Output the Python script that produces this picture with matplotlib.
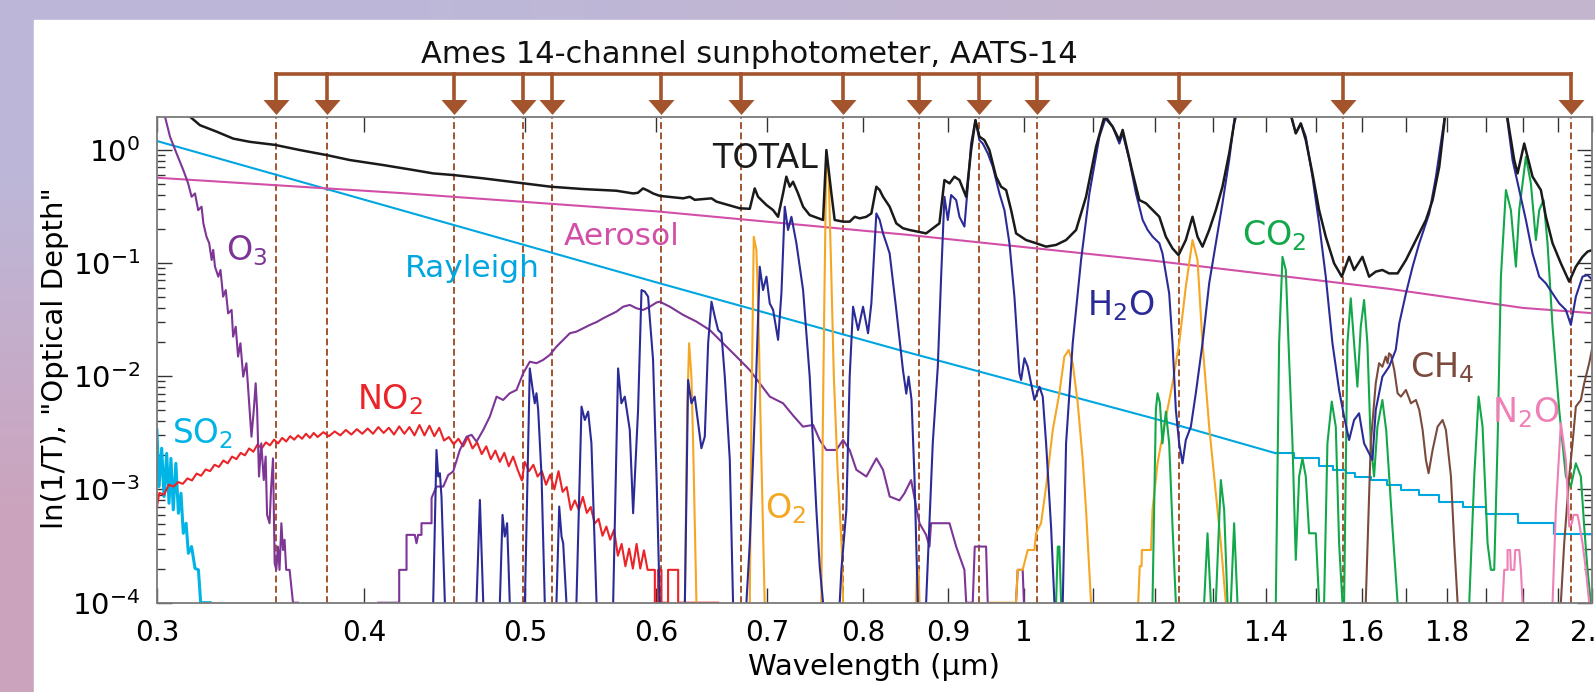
import numpy as np
import matplotlib.pyplot as plt
from matplotlib.patches import Rectangle
from matplotlib.ticker import FixedLocator, FixedFormatter, NullLocator, LogLocator, NullFormatter

nan = np.nan
plt.rcParams['mathtext.default'] = 'regular'

# AATS-14 channel centres (um)
channels = [0.354, 0.380, 0.453, 0.499, 0.519, 0.604, 0.675, 0.778, 0.865, 0.940, 1.019, 1.241, 1.558, 2.139]

# --- optical depth curves (wavelength um, tau) ---
rayleigh_wl = [0.300, 0.603, 0.841, 1.207, 1.418]
rayleigh_tau = [1.19, 0.066, 0.0170, 4.1e-3, 2.09e-3]
rayleigh_step_wl = [1.418, 1.456, 1.507, 1.535, 1.565, 1.584, 1.620, 1.655, 1.688, 1.732, 1.780,
                    1.839, 1.899, 1.985, 2.088, 2.21]
rayleigh_step_tau = [2.09e-3, 1.88e-3, 1.61e-3, 1.49e-3, 1.39e-3, 1.30e-3, 1.20e-3, 1.10e-3, 9.9e-4,
                     8.9e-4, 7.8e-4, 7.06e-4, 6.08e-4, 5.03e-4, 4.05e-4, 4.05e-4]

aerosol_wl = [0.30, 0.42, 0.60, 0.85, 1.20, 1.66, 2.00, 2.20]
aerosol_tau = [0.564, 0.414, 0.285, 0.177, 0.104, 0.059, 0.040, 0.036]

so2_wl = [0.300, 0.3009, 0.3020, 0.3030, 0.3041, 0.3051, 0.3059, 0.3069, 0.3080, 0.3091, 0.3102,
          0.3112, 0.3124, 0.3134, 0.3148, 0.3163, 0.3178, 0.3188, 0.3230]
so2_tau = [3.35e-3, 1.06e-3, 2.31e-3, 8.65e-4, 2.08e-3, 7.55e-4, 1.88e-3, 6.6e-4, 1.70e-3, 6.16e-4,
           9.25e-4, 4.1e-4, 5.03e-4, 2.73e-4, 3.13e-4, 2.01e-4, 1.95e-4, 1e-4, 1e-4]

no2_wl = [0.300, 0.301, 0.303, 0.305, 0.307, 0.309, 0.311, 0.313, 0.315, 0.317, 0.319, 0.321, 0.323,
          0.325, 0.327, 0.329, 0.331, 0.333, 0.335, 0.337, 0.339, 0.341, 0.343, 0.345, 0.347, 0.349,
          0.351, 0.353, 0.355, 0.357, 0.359, 0.361, 0.363, 0.365, 0.367, 0.369, 0.371, 0.373, 0.375,
          0.378, 0.381, 0.384, 0.387, 0.390, 0.393, 0.396, 0.399, 0.402, 0.405, 0.408, 0.411, 0.414,
          0.417, 0.420, 0.423, 0.426, 0.429, 0.432, 0.435, 0.438, 0.441, 0.444, 0.447, 0.450, 0.453,
          0.456, 0.459, 0.462, 0.465, 0.468, 0.471, 0.474, 0.477, 0.480, 0.483, 0.486, 0.489, 0.492,
          0.495, 0.498, 0.500, 0.503, 0.506, 0.509, 0.512, 0.515, 0.518, 0.521, 0.524, 0.527, 0.530,
          0.533, 0.536, 0.539, 0.542, 0.545, 0.548, 0.551, 0.554, 0.557, 0.560, 0.563, 0.566, 0.569,
          0.572, 0.575, 0.578, 0.581, 0.584, 0.587, 0.590, 0.593, 0.599, 0.599, 0.6017, 0.6017,
          0.6045, 0.6045, 0.6101, 0.6101, 0.6187, 0.6187, 0.654]
no2_tau = [7.0e-4, 9.3e-4, 9.0e-4, 1.10e-3, 1.06e-3, 1.16e-3, 1.12e-3, 1.25e-3, 1.20e-3, 1.38e-3,
           1.32e-3, 1.50e-3, 1.45e-3, 1.65e-3, 1.58e-3, 1.80e-3, 1.70e-3, 1.95e-3, 1.85e-3, 2.10e-3,
           2.00e-3, 2.30e-3, 2.15e-3, 2.50e-3, 2.30e-3, 2.60e-3, 2.45e-3, 2.75e-3, 2.55e-3, 2.85e-3,
           2.65e-3, 2.95e-3, 2.75e-3, 3.00e-3, 2.80e-3, 3.10e-3, 2.85e-3, 3.15e-3, 2.90e-3, 3.20e-3,
           2.95e-3, 3.25e-3, 3.00e-3, 3.35e-3, 3.05e-3, 3.40e-3, 3.10e-3, 3.45e-3, 3.10e-3, 3.55e-3,
           3.15e-3, 3.50e-3, 3.05e-3, 3.60e-3, 3.10e-3, 3.55e-3, 3.00e-3, 3.70e-3, 3.00e-3, 3.65e-3,
           2.95e-3, 3.50e-3, 2.70e-3, 2.90e-3, 2.50e-3, 2.80e-3, 2.40e-3, 2.90e-3, 2.30e-3, 2.60e-3,
           2.05e-3, 2.40e-3, 1.85e-3, 2.20e-3, 1.75e-3, 2.10e-3, 1.60e-3, 1.95e-3, 1.50e-3, 1.20e-3,
           1.75e-3, 1.45e-3, 1.65e-3, 1.30e-3, 1.45e-3, 1.10e-3, 1.35e-3, 1.00e-3, 1.45e-3, 9.5e-4,
           1.05e-3, 6.6e-4, 8.0e-4, 6.6e-4, 8.6e-4, 6.2e-4, 7.0e-4, 5.0e-4, 5.5e-4, 3.9e-4, 4.7e-4,
           3.6e-4, 4.4e-4, 2.6e-4, 3.3e-4, 2.1e-4, 3.0e-4, 2.0e-4, 3.3e-4, 2.0e-4, 2.9e-4, 1.95e-4,
           1.95e-4, 1e-4, 1e-4, 1.95e-4, 1.95e-4, 1e-4, 1e-4, 1.95e-4, 1.95e-4, 1e-4, 1e-4]

o3_wl = [0.3015, 0.3027, 0.3055, 0.3083, 0.3112, 0.3133, 0.3148, 0.3163, 0.3177, 0.3192, 0.3200,
         0.3214, 0.3226, 0.3237, 0.3244, 0.3252, 0.3267, 0.3277, 0.3289, 0.3301, 0.3312, 0.3328,
         0.3335, 0.3347, 0.3358, 0.3369, 0.3382, 0.3397, 0.3410, 0.3421, 0.3432, 0.3441, 0.3448,
         0.3457, 0.3468, 0.3480, 0.3489, 0.3496, 0.3508, 0.3516, 0.3525, 0.3533, 0.3541, 0.3549,
         0.3557, 0.3566, 0.3574, 0.3582, 0.3590, 0.3607, 0.3624, 0.3649, nan,
         0.4079, 0.4200, 0.4200, 0.4243, 0.4243, 0.4292, 0.4302, 0.4312, 0.4332, 0.4332, 0.4393,
         0.4393, 0.4423, 0.4465, 0.4496, 0.4527, 0.4569, 0.4612, 0.4644, 0.4676, 0.4720, 0.4763,
         0.4808, 0.4852, 0.4897, 0.4943, 0.4989, 0.5035, 0.5082, 0.5129, 0.5177, 0.5225, 0.5274,
         0.5323, 0.5372, 0.5422, 0.5473, 0.5524, 0.5575, 0.5627, 0.5679, 0.5732, 0.5785, 0.5839,
         0.5893, 0.5948, 0.6003, 0.6031, 0.6116, 0.6230, 0.6346, 0.6465, 0.6585, 0.6708, 0.6834,
         0.6929, 0.7027, 0.7157, 0.7257, 0.7358, 0.7462, 0.7531, 0.7601, 0.7707, 0.7779, 0.7851,
         0.7924, 0.8035, 0.8148, 0.8223, 0.8300, 0.8413, 0.8472, 0.8550, 0.8610, 0.8650, 0.8730,
         0.8771, 0.8790, 0.9018, 0.9060, 0.9102, 0.9207, 0.9230, 0.9314, 0.9340, 0.9488, 0.9510, nan,
         0.9891, 0.9914, 0.9983, 1.0000]
o3_tau = [3.5, 2.23, 1.30, 0.925, 0.659, 0.503, 0.383, 0.410, 0.292, 0.313, 0.223,
          0.170, 0.149, 0.106, 0.130, 0.0925, 0.0755, 0.0865, 0.0503, 0.0575, 0.0358, 0.0384,
          0.0223, 0.0273, 0.0149, 0.0195, 9.9e-3, 0.0130, 5.76e-3, 2.92e-3, 5.02e-3, 8.65e-3, 5.02e-3,
          1.30e-3, 2.55e-3, 1.21e-3, 1.95e-3, 5.96e-4, 5.03e-4, 1.06e-3, 1.88e-3, 2.23e-4, 1.95e-4, 3.13e-4,
          1.95e-4, 5.03e-4, 2.92e-4, 3.59e-4, 1.95e-4, 1.95e-4, 1e-4, 1e-4, nan,
          1e-4, 1e-4, 1.95e-4, 1.95e-4, 3.97e-4, 3.97e-4, 3.35e-4, 3.97e-4, 3.97e-4, 5.03e-4, 5.03e-4,
          8.4e-4, 1.06e-3, 1.06e-3, 1.34e-3, 1.44e-3, 2.23e-3, 2.92e-3, 3.03e-3, 2.64e-3, 3.35e-3, 4.39e-3,
          6.59e-3, 6.16e-3, 7.06e-3, 7.55e-3, 0.0106, 0.0134, 0.0130, 0.0139, 0.0154, 0.0182, 0.0209,
          0.0239, 0.0247, 0.0264, 0.0283, 0.0300, 0.0324, 0.0347, 0.0371, 0.0410, 0.0425, 0.0397,
          0.0384, 0.0410, 0.0446, 0.0454, 0.0410, 0.0347, 0.0303, 0.0255, 0.0195, 0.0149, 0.0113,
          8.65e-3, 6.59e-3, 5.76e-3, 4.5e-3, 3.58e-3, 3.71e-3, 2.73e-3, 2.23e-3, 2.23e-3, 2.73e-3, 2.23e-3,
          1.49e-3, 1.30e-3, 1.88e-3, 1.49e-3, 8.65e-4, 8.0e-4, 9.25e-4, 1.21e-3, 7.06e-4, 5.03e-4, 3.97e-4,
          3.13e-4, 5.03e-4, 5.03e-4, 3.97e-4, 3.13e-4, 1.95e-4, 1e-4, 1e-4, 3.13e-4, 3.13e-4, 1e-4, nan,
          1e-4, 1.95e-4, 1.95e-4, 1e-4]

h2o_wl = [0.4403, 0.4423, 0.4434, 0.4444, 0.4454, 0.4475, nan,
          0.4676, 0.4698, 0.4720, nan,
          0.4830, 0.4848, 0.4863, 0.4879, 0.4897, nan,
          0.5001, 0.5035, 0.5059, 0.5070, 0.5082, 0.5094, 0.5118, 0.5141, nan,
          0.5225, 0.5245, 0.5262, 0.5274, 0.5298, nan,
          0.5372, 0.5410, 0.5435, 0.5460, 0.5485, 0.5524, nan,
          0.5653, 0.5692, 0.5718, 0.5745, 0.5785, 0.5812, 0.5852, 0.5880, 0.5907, 0.5934, 0.5975,
          0.6004, 0.6031, nan,
          0.6245, 0.6273, 0.6302, 0.6331, 0.6361, 0.6390, 0.6420, 0.6450, 0.6480, 0.6510, 0.6540,
          0.6570, 0.6601, 0.6647, 0.6677, nan,
          0.6802, 0.6834, 0.6865, 0.6897, 0.6929, 0.6961, 0.6994, 0.7026, 0.7059, 0.7108, 0.7141,
          0.7174, 0.7207, 0.7241, 0.7291, 0.7359, 0.7427, 0.7496, 0.7531, 0.7566, nan,
          0.7743, 0.7761, 0.7815, 0.7851, 0.7888, 0.7943, 0.7998, 0.8054, 0.8091, 0.8147, 0.8185,
          0.8223, 0.8261, 0.8299, 0.8376, 0.8454, 0.8493, 0.8520, 0.8555, 0.8590, 0.8630, nan,
          0.8730, 0.8811, 0.8873, 0.8914, 0.8955, 0.8997, 0.9039, 0.9102, 0.9144, 0.9207, 0.9250,
          0.9293, 0.9349, 0.9401, 0.9445, 0.9511, 0.9577, 0.9666, 0.9733, 0.9801, 0.9869, 0.9938,
          0.9961, 1.0007, 1.0053, 1.0100, 1.0147, 1.0218, 1.0265, 1.0313, 1.0384, 1.0433, nan,
          1.0554, 1.0603, 1.0701, 1.0826, 1.0952, 1.1105, 1.1208, 1.1312, 1.1417, 1.1470, 1.1577,
          1.1684, 1.1793, 1.1875, 1.1958, 1.2069, 1.2122, 1.2235, 1.2292, 1.2349, 1.2406, 1.2464,
          1.2521, 1.2609, 1.2696, 1.2815, 1.2934, 1.3054, 1.3175, 1.3298, 1.3421, 1.39, 1.4453,
          1.4587, 1.4689, 1.4791, 1.4928, 1.5067, 1.5207, 1.5349, 1.5491, 1.5599, 1.5708, 1.5817,
          1.5927, 1.6038, 1.6112, 1.6225, 1.6300, 1.6451, 1.6604, 1.6758, 1.6841, 1.6998, 1.7156,
          1.7315, 1.7557, 1.7721, 1.7968, 1.87, 1.9529, 1.9710, 1.9894, 2.0079, 2.0265, 2.0454,
          2.0644, 2.0836, 2.1029, 2.1225, 2.1372, 2.1521, 2.1721, 2.1872, 2.2025]
h2o_tau = [1e-4, 2.23e-3, 1.30e-3, 1.39e-3, 8.65e-4, 1e-4, nan,
           1e-4, 8.07e-4, 1e-4, nan,
           1e-4, 5.96e-4, 3.84e-4, 5.03e-4, 1e-4, nan,
           1e-4, 0.0117, 7.06e-3, 5.76e-3, 7.06e-3, 5.03e-3, 1.30e-3, 1e-4, nan,
           1e-4, 7.06e-4, 3.84e-4, 3.35e-4, 1e-4, nan,
           1e-4, 5.38e-3, 4.10e-3, 4.86e-3, 2.55e-3, 1e-4, nan,
           1e-4, 0.0117, 5.76e-3, 6.59e-3, 3.35e-3, 6.16e-4, 5.03e-3, 0.0575, 0.0557, 0.0503, 0.014,
           1.3e-3, 1e-4, nan,
           1e-4, 9.25e-3, 5.76e-3, 6.59e-3, 3.84e-3, 2.31e-3, 2.92e-3, 0.0195, 0.0454, 0.0335, 0.0255,
           0.0239, 9.9e-3, 1.82e-3, 1e-4, nan,
           1e-4, 3.35e-4, 1.82e-3, 0.0113, 0.0925, 0.0575, 0.0755, 0.0439, 0.0384, 0.0209, 0.0538,
           0.313, 0.195, 0.255, 0.149, 0.0575, 9.9e-3, 6.6e-4, 2.09e-4, 1e-4, nan,
           1e-4, 1.95e-4, 6.6e-4, 9.9e-3, 0.041, 0.0255, 0.041, 0.0239, 0.0439, 0.273, 0.239,
           0.182, 0.149, 0.121, 0.0384, 0.0113, 7.0e-3, 9.9e-3, 6.2e-3, 1.3e-3, 1e-4, nan,
           1e-4, 2.55e-3, 0.0121, 0.0755, 0.383, 0.239, 0.397, 0.358, 0.255, 0.209, 0.470,
           1.13, 1.82, 1.21, 1.13, 0.925, 0.706, 0.410, 0.292, 0.149, 0.0503, 0.0106,
           9.25e-3, 0.0144, 0.0121, 8.65e-3, 6.16e-3, 8.07e-3, 6.59e-3, 2.55e-3, 4.7e-4, 1e-4, nan,
           1e-4, 2.55e-3, 0.0195, 0.106, 0.410, 1.30, 1.95, 1.59, 1.13, 1.39, 0.808,
           0.410, 0.239, 0.195, 0.170, 0.149, 0.121, 0.0538, 0.0195, 5.03e-3, 2.55e-3, 1.70e-3,
           2.73e-3, 3.58e-3, 7.06e-3, 0.0195, 0.0659, 0.149, 0.335, 0.808, 2.3, 30.0, 2.3,
           1.39, 1.70, 1.30, 0.576, 0.223, 0.0755, 0.0195, 7.55e-3, 4.39e-3, 2.73e-3, 4.10e-3,
           4.70e-3, 2.55e-3, 2.23e-3, 1.82e-3, 5.03e-3, 9.9e-3, 0.0121, 0.0170, 0.0292, 0.0538, 0.0925,
           0.149, 0.273, 0.576, 2.3, 30.0, 2.3, 0.808, 0.439, 0.239, 0.121, 0.0755,
           0.0659, 0.0538, 0.0439, 0.0384, 0.0283, 0.0503, 0.0755, 0.0781, 0.0706]

o2_wl = [0.6245, 0.6265, 0.6282, 0.6302, 0.6317, 0.6346, nan,
         0.6834, 0.6850, 0.6872, 0.6897, 0.6915, 0.6940, 0.6977, nan,
         0.7548, 0.7560, 0.7580, 0.7601, 0.7625, 0.7650, 0.7680, 0.7720, 0.7765, 0.7779, nan,
         0.861, 0.862, 0.864, 0.865, nan,
         0.9532, 0.9891, 0.9914, 0.9983, 1.0053, 1.0147, 1.0170, 1.0241, 1.0313, 1.0409, 1.0505,
         1.0578, 1.0642, 1.0701, 1.0776, 1.0851, 1.0901, 1.0977, nan,
         1.1720, 1.1745, 1.1775, 1.1780, 1.1930, 1.1955, 1.2039, 1.2150, 1.2292, 1.2406, 1.2521,
         1.2638, 1.2726, 1.2815, 1.2934, 1.3054, 1.3145, 1.3236]
o2_tau = [1e-4, 5.03e-3, 0.0195, 9.9e-3, 2.55e-3, 1e-4, nan,
          1e-4, 5e-3, 0.17, 0.13, 0.04, 3e-3, 1e-4, nan,
          1e-4, 2e-3, 0.05, 0.93, 0.6, 0.1, 0.01, 1.5e-3, 3e-4, 1e-4, nan,
          1e-4, 1.95e-4, 1.95e-4, 1e-4, nan,
          1e-4, 1e-4, 1.95e-4, 1.95e-4, 2.92e-4, 2.92e-4, 4.1e-4, 5.03e-4, 1.06e-3, 3.35e-3, 7.06e-3,
          0.0149, 0.0170, 0.0130, 5.76e-3, 1.82e-3, 6.6e-4, 1e-4, nan,
          1e-4, 2.1e-4, 2.1e-4, 2.92e-4, 2.92e-4, 6.6e-4, 1.70e-3, 3.58e-3, 8.65e-3, 0.0195, 0.0616,
          0.159, 0.106, 0.0195, 3.58e-3, 9.25e-4, 3.35e-4, 1e-4]

co2_wl = [1.0457, 1.0482, 1.0505, 1.0530, nan,
          1.1955, 1.2011, 1.2039, 1.2078, 1.2122, 1.2179, 1.2235, 1.2292, 1.2349, nan,
          1.2844, 1.2904, 1.2964, nan,
          1.3054, 1.3145, 1.3206, 1.3267, nan,
          1.3329, 1.3390, 1.3452, nan,
          1.4188, 1.4253, 1.4320, 1.4386, 1.4453, 1.4520, 1.4587, 1.4655, 1.4723, 1.4791, 1.4859,
          1.4998, 1.5067, nan,
          1.5172, 1.5242, 1.5334, 1.5420, 1.5491, 1.5563, nan,
          1.5599, 1.5671, 1.5744, 1.5817, 1.5890, 1.5964, 1.6038, 1.6112, 1.6187, 1.6262, 1.6338,
          1.6451, 1.6539, 1.6681, 1.6802, nan,
          1.8560, 1.8689, 1.8802, 1.8906, 1.9038, 1.9126, 1.9215, 1.9304, 1.9394, 1.9529, 1.9665,
          1.9802, 1.9894, 2.0079, 2.0218, 2.0359, 2.0454, 2.0577, 2.0691, 2.0836, 2.1029, 2.1225,
          2.1372, 2.1521, 2.1671, 2.1772, 2.1872, 2.1974]
co2_tau = [1e-4, 3.13e-4, 3.13e-4, 1e-4, nan,
           1e-4, 5.03e-3, 7.06e-3, 5.8e-3, 2.55e-3, 4.86e-3, 2.55e-3, 4.7e-4, 1e-4, nan,
           1e-4, 4.1e-4, 1e-4, nan,
           1e-4, 1.21e-3, 6.6e-4, 1e-4, nan,
           1e-4, 5.03e-4, 1e-4, nan,
           1e-4, 0.0195, 0.113, 0.0865, 0.0139, 2.55e-3, 2.39e-4, 1.30e-3, 1.88e-3, 1.30e-3, 4.1e-4,
           4.1e-4, 1e-4, nan,
           1e-4, 2.55e-3, 5.96e-3, 3.58e-3, 3.35e-4, 1e-4, nan,
           1e-4, 0.0195, 0.0486, 0.0195, 8.07e-3, 0.0273, 0.0470, 0.0195, 2.55e-3, 1.30e-3, 3.58e-3,
           6.16e-3, 3.3e-3, 4.7e-4, 1e-4, nan,
           1e-4, 1.30e-3, 6.59e-3, 3.58e-3, 3.35e-4, 1.95e-4, 1.95e-4, 2.55e-3, 0.0755, 0.439, 0.292,
           0.0925, 0.292, 0.865, 0.503, 0.159, 0.292, 0.358, 0.149, 0.0273, 5.03e-3, 1.30e-3,
           1.06e-3, 1.70e-3, 1.30e-3, 4.7e-4, 1.95e-4, 1e-4]

ch4_wl = [1.6075, 1.6187, 1.6300, 1.6375, 1.6451, 1.6527, 1.6571, 1.6604, 1.6648, 1.6725, 1.6802,
          1.6880, 1.6998, 1.7116, 1.7235, 1.7315, 1.7396, 1.7476, 1.7541, 1.7639, 1.7762, 1.7885,
          1.7968, 1.8094, 1.8177, 1.8262, nan,
          2.1078, 2.1176, 2.1323, 2.1422, 2.1521, 2.1671, 2.1772, 2.1923, 2.2025, 2.2076]
ch4_tau = [1e-4, 2.55e-3, 8.65e-3, 0.0130, 0.0121, 0.0149, 0.0130, 0.0159, 0.0154, 0.0113, 7.06e-3,
           6.59e-3, 7.55e-3, 5.76e-3, 6.16e-3, 5.03e-3, 3.35e-3, 1.82e-3, 1.39e-3, 2.23e-3, 3.58e-3, 4.10e-3,
           3.35e-3, 1.30e-3, 3.35e-4, 1e-4, nan,
           1e-4, 3.35e-4, 1.30e-3, 2.55e-3, 5.38e-3, 6.16e-3, 8.65e-3, 0.0130, 0.0182, 0.0209]

n2o_wl = [1.9438, 1.9484, 1.9574, 1.9574, 1.9646, 1.9665, 1.9756, 1.9784, 1.9894, 1.9940, 1.9986, nan,
          2.0836, 2.0932, 2.1078, 2.1225, 2.1323, 2.1402, 2.1452, 2.1571, 2.1621, 2.1721, 2.1822, 2.1923]
n2o_tau = [1e-4, 1.95e-4, 1.95e-4, 2.92e-4, 2.92e-4, 1.95e-4, 1.95e-4, 2.92e-4, 2.92e-4, 1.95e-4, 1e-4, nan,
           1e-4, 6.6e-4, 3.84e-3, 1.82e-3, 4.7e-4, 5.03e-4, 5.96e-4, 5.96e-4, 5.03e-4, 3.35e-4, 1.95e-4, 1e-4]

total_wl = [0.3100, 0.3141, 0.3185, 0.3259, 0.3335, 0.3413, 0.3534, 0.3659, 0.3797, 0.3922, 0.4107,
            0.4262, 0.4403, 0.4527, 0.4720, 0.4994, 0.5183, 0.5422, 0.5679, 0.5812, 0.5850, 0.5893,
            0.5934, 0.5975, 0.6031, 0.6230, 0.6288, 0.6331, 0.6480, 0.6525, 0.6740, 0.6834, 0.6881,
            0.6913, 0.6945, 0.6994, 0.7059, 0.7108, 0.7157, 0.7190, 0.7224, 0.7257, 0.7308, 0.7359,
            0.7427, 0.7566, 0.7601, 0.7654, 0.7689, 0.7779, 0.7851, 0.7906, 0.7961, 0.8035, 0.8091,
            0.8147, 0.8185, 0.8223, 0.8299, 0.8376, 0.8454, 0.8531, 0.8730, 0.8893, 0.8955, 0.9018,
            0.9080, 0.9144, 0.9229, 0.9293, 0.9349, 0.9401, 0.9467, 0.9532, 0.9621, 0.9688, 0.9756,
            0.9824, 0.9892, 1.0030, 1.0170, 1.0313, 1.0457, 1.0603, 1.0751, 1.0901, 1.1054, 1.1182,
            1.1312, 1.1417, 1.1470, 1.1631, 1.1739, 1.1848, 1.1958, 1.2069, 1.2179, 1.2292, 1.2395,
            1.2521, 1.2638, 1.2726, 1.2815, 1.2934, 1.3054, 1.3175, 1.3298, 1.3390, 1.3452, 1.39,
            1.4453, 1.4587, 1.4689, 1.4791, 1.4928, 1.5067, 1.5207, 1.5384, 1.5549, 1.5708, 1.5817,
            1.6001, 1.6150, 1.6300, 1.6451, 1.6604, 1.6802, 1.6998, 1.7235, 1.7476, 1.7639, 1.7803,
            1.7968, 1.87, 1.9529, 1.9756, 1.9848, 2.0032, 2.0265, 2.0501, 2.0644, 2.0836, 2.1078,
            2.1323, 2.1521, 2.1721, 2.1872, 2.2025]
total_tau = [3.0, 1.95, 1.64, 1.44, 1.25, 1.17, 1.10, 0.99, 0.894, 0.808, 0.730,
             0.668, 0.616, 0.596, 0.557, 0.503, 0.470, 0.448, 0.433, 0.410, 0.415, 0.454,
             0.433, 0.410, 0.39, 0.371, 0.383, 0.36, 0.371, 0.347, 0.303, 0.300, 0.454,
             0.383, 0.358, 0.324, 0.292, 0.255, 0.410, 0.576, 0.470, 0.520, 0.410, 0.313,
             0.264, 0.239, 0.99, 0.410, 0.239, 0.231, 0.231, 0.255, 0.247, 0.255, 0.273,
             0.470, 0.439, 0.383, 0.313, 0.223, 0.202, 0.195, 0.182, 0.223, 0.538, 0.503,
             0.576, 0.538, 0.383, 0.99, 1.82, 1.30, 1.21, 0.99, 0.576, 0.470, 0.439,
             0.292, 0.182, 0.159, 0.149, 0.139, 0.144, 0.159, 0.195, 0.383, 1.06, 1.95,
             1.59, 1.21, 1.49, 0.616, 0.358, 0.335, 0.292, 0.255, 0.170, 0.134, 0.117,
             0.159, 0.255, 0.170, 0.139, 0.195, 0.292, 0.470, 0.925, 1.70, 2.3, 30.0,
             2.3, 1.39, 1.70, 1.21, 0.616, 0.292, 0.170, 0.099, 0.0755, 0.113, 0.0865,
             0.113, 0.0755, 0.0836, 0.0865, 0.0807, 0.0807, 0.106, 0.159, 0.239, 0.358, 0.706,
             2.3, 30.0, 2.3, 0.808, 0.616, 1.13, 0.576, 0.439, 0.255, 0.149, 0.099,
             0.0682, 0.0925, 0.113, 0.1255, 0.130]

xtick_vals = [0.3, 0.4, 0.5, 0.6, 0.7, 0.8, 0.9, 1.0, 1.1, 1.2, 1.3, 1.4, 1.5, 1.6, 1.7, 1.8, 1.9,
              2.0, 2.1, 2.2]
xtick_labels = ['0.3', '0.4', '0.5', '0.6', '0.7', '0.8', '0.9', '1', '', '1.2', '', '1.4', '',
                '1.6', '', '1.8', '', '2', '', '2.2']
ytick_vals = [1e-4, 1e-3, 1e-2, 1e-1, 1.0]
ytick_labels = [r'10$^{-4}$', r'10$^{-3}$', r'10$^{-2}$', r'10$^{-1}$', r'10$^{0}$']

brown = '#a3542c'
W, H = 1595, 692

fig = plt.figure(figsize=(W / 100, H / 100), dpi=100)

# purple backdrop with white panel
bg = fig.add_axes([0, 0, 1, 1])
grad = np.array([[[0.74, 0.72, 0.85], [0.77, 0.71, 0.81]],
                 [[0.80, 0.64, 0.74], [0.80, 0.67, 0.77]]])
bg.imshow(grad, extent=[0, 1, 0, 1], aspect='auto', interpolation='bilinear')
bg.add_patch(Rectangle((34 / W, 0), 1, (H - 20) / H, color='white', transform=bg.transAxes))
bg.set_xlim(0, 1)
bg.set_ylim(0, 1)
bg.axis('off')

ax = fig.add_axes([156.9 / W, (H - 602.7) / H, (1591.7 - 156.9) / W, (602.7 - 116.7) / H])
ax.set_xscale('log')
ax.set_yscale('log')
ax.set_xlim(0.3, 2.2)
ax.set_ylim(1e-4, 1.95)
ax.patch.set_alpha(0)

lw = 1.5
for c in channels:
    ax.axvline(c, color=brown, lw=1.4, ls=(0, (3.5, 1.8)), zorder=1.5)

ax.plot(rayleigh_wl, rayleigh_tau, color='#00a6e0', lw=lw)
ax.plot(rayleigh_step_wl, rayleigh_step_tau, color='#00a6e0', lw=lw, drawstyle='steps-post')
ax.plot(aerosol_wl, aerosol_tau, color='#d24fa8', lw=lw)
ax.plot(so2_wl, so2_tau, color='#00b4e6', lw=2.2)
ax.plot(no2_wl, no2_tau, color='#ea2428', lw=lw)
ax.plot(o3_wl, o3_tau, color='#7d3596', lw=lw)
ax.plot(o2_wl, o2_tau, color='#f5a623', lw=lw)
ax.plot(co2_wl, co2_tau, color='#12a84a', lw=lw)
ax.plot(ch4_wl, ch4_tau, color='#7a4b3c', lw=lw)
ax.plot(n2o_wl, n2o_tau, color='#ee80b6', lw=lw)
ax.plot(h2o_wl, h2o_tau, color='#2b2b98', lw=lw)
ax.plot(total_wl, total_tau, color='#1a1a1a', lw=1.8)

# ticks
ax.xaxis.set_major_locator(FixedLocator(xtick_vals))
ax.xaxis.set_major_formatter(FixedFormatter(xtick_labels))
ax.xaxis.set_minor_locator(NullLocator())
ax.yaxis.set_major_locator(FixedLocator(ytick_vals))
ax.yaxis.set_major_formatter(FixedFormatter(ytick_labels))
ax.yaxis.set_minor_locator(LogLocator(base=10, subs=np.arange(2, 10)))
ax.yaxis.set_minor_formatter(NullFormatter())
ax.tick_params(which='both', direction='in', top=True, right=True, color='#333333', width=1)
ax.tick_params(which='major', length=11)
ax.tick_params(which='minor', length=6)
ax.tick_params(axis='x', labelsize=20, pad=12)
ax.tick_params(axis='y', labelsize=21, pad=12)
for s in ax.spines.values():
    s.set_color('#7a7a7a')
    s.set_linewidth(1.3)

# channel bracket with arrows
trans = ax.get_xaxis_transform()
ybar, ystem, yhead = 1.0879, 1.03, 1.019
ax.plot([channels[0], channels[-1]], [ybar, ybar], transform=trans, color=brown, lw=2.6,
        clip_on=False, solid_capstyle='projecting')
head = [(-13, 7.5), (13, 7.5), (0, -7.5), (-13, 7.5)]
for c in channels:
    ax.plot([c, c], [ybar, ystem], transform=trans, color=brown, lw=2.6, clip_on=False,
            solid_capstyle='projecting')
    ax.plot([c], [yhead], transform=trans, marker=head, ms=18.7, color=brown, clip_on=False,
            markeredgewidth=0)

# curve labels
ax.text(0.6977, 0.687, 'TOTAL', color='#1a1a1a', fontsize=24, ha='center', va='baseline')
ax.text(0.572, 0.1436, 'Aerosol', color='#d24fa8', fontsize=22.5, ha='center', va='baseline')
ax.text(0.4646, 0.075, 'Rayleigh', color='#00a6e0', fontsize=22.5, ha='center', va='baseline')
ax.text(0.3398, 0.106, 'O$_3$', color='#7d3596', fontsize=24, ha='center', va='baseline')
ax.text(0.4145, 5.13e-3, 'NO$_2$', color='#ea2428', fontsize=24, ha='center', va='baseline')
ax.text(0.3197, 2.57e-3, 'SO$_2$', color='#00b4e6', fontsize=23.5, ha='center', va='baseline')
ax.text(0.7184, 5.59e-4, 'O$_2$', color='#f5a623', fontsize=24, ha='center', va='baseline')
ax.text(1.1446, 0.0346, 'H$_2$O', color='#2b2b98', fontsize=24, ha='center', va='baseline')
ax.text(1.4157, 0.1436, 'CO$_2$', color='#12a84a', fontsize=24, ha='center', va='baseline')
ax.text(1.787, 9.8e-3, 'CH$_4$', color='#7a4b3c', fontsize=24, ha='center', va='baseline')
ax.text(2.008, 3.94e-3, 'N$_2$O', color='#ee80b6', fontsize=24, ha='center', va='baseline')

fig.text(749.5 / W, 1 - 63 / H, 'Ames 14-channel sunphotometer, AATS-14', fontsize=22,
         ha='center', va='baseline', color='#111111')
fig.text(874 / W, 1 - 666.7 / H, 'Wavelength (\u03bcm)', fontsize=21, ha='center', va='center')
fig.text(55.5 / W, 1 - 358.5 / H, 'ln(1/T), "Optical Depth"', fontsize=21, rotation=90,
         ha='center', va='center')

fig.savefig('out.png', dpi=100)
